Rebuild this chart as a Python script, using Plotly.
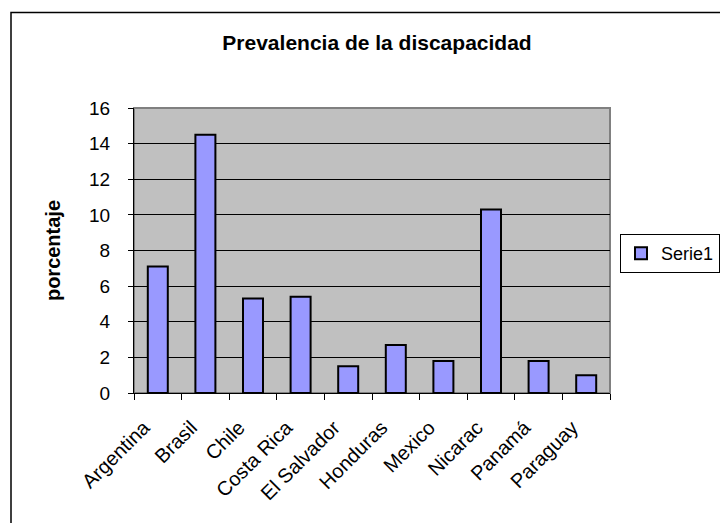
import plotly.graph_objects as go

countries = ["Argentina", "Brasil", "Chile", "Costa Rica", "El Salvador",
             "Honduras", "Mexico", "Nicarac", "Panamá", "Paraguay"]
values = [7.1, 14.5, 5.3, 5.4, 1.5, 2.7, 1.8, 10.3, 1.8, 1.0]
series_name = "Serie1"
title_text = "Prevalencia de la discapacidad"
y_title = "porcentaje"

W, H = 720, 523
ML, MR, MT, MB = 134, 110, 108, 130
FONT = "Liberation Sans, Arial, sans-serif"

pw = W - ML - MR
ph = H - MT - MB

def px_x(x):
    return (x - ML) / pw

def px_y(y):
    return (H - MB - y) / ph

fig = go.Figure()
fig.add_trace(go.Bar(
    x=countries, y=values, name=series_name,
    marker=dict(color="#9999FF", line=dict(color="black", width=2)),
    showlegend=True,
))

fig.update_layout(
    width=W, height=H,
    margin=dict(l=ML, r=MR, t=MT, b=MB, autoexpand=False),
    paper_bgcolor="white",
    plot_bgcolor="#C0C0C0",
    font=dict(family=FONT, size=19, color="black"),
    bargap=0.58,
    title=dict(text="<b>" + title_text + "</b>", x=377 / W, xref="container",
               y=1 - 43 / H, yref="container", xanchor="center", yanchor="middle",
               font=dict(family=FONT, size=21, color="black")),
    showlegend=True,
    legend=dict(xref="container", yref="container", x=620 / W, y=1 - 234 / H,
                xanchor="left", yanchor="top",
                bordercolor="black", borderwidth=1, bgcolor="white",
                font=dict(family=FONT, size=18, color="black")),
    xaxis=dict(
        type="category", showgrid=False, showline=True, linecolor="black", linewidth=1,
        ticks="outside", tickson="boundaries", ticklen=6, tickcolor="black", tickwidth=1,
        tickangle=-45, ticklabelstandoff=14, ticklabelshift=-14,
        tickfont=dict(family=FONT, size=20, color="black"),
        zeroline=False,
    ),
    yaxis=dict(
        range=[0, 16], dtick=2, showgrid=True, gridcolor="black", gridwidth=1,
        showline=True, linecolor="black", linewidth=1,
        ticks="outside", ticklen=5, tickcolor="black", tickwidth=1,
        ticklabelstandoff=14,
        tickfont=dict(family=FONT, size=19, color="black"),
        zeroline=False,
        title=dict(text="<b>" + y_title + "</b>", standoff=23,
                   font=dict(family=FONT, size=20, color="black")),
    ),
    shapes=[
        # outer chart border (clipped at right/bottom)
        dict(type="rect", xref="paper", yref="paper",
             x0=px_x(11), x1=px_x(W + 20), y0=px_y(H + 20), y1=px_y(12.5),
             line=dict(color="black", width=1.5), fillcolor="rgba(0,0,0,0)", layer="above"),
        # plot area border (gray)
        dict(type="rect", xref="paper", yref="paper",
             x0=0, x1=1, y0=0, y1=1,
             line=dict(color="#808080", width=2), fillcolor="rgba(0,0,0,0)", layer="below"),
    ],
)

fig.write_html("out.html")
